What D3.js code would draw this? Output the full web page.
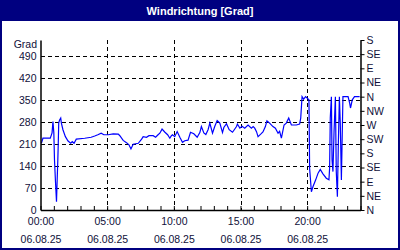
<!DOCTYPE html>
<html>
<head>
<meta charset="utf-8">
<script src="https://cdn.jsdelivr.net/npm/d3@7"></script>
<style>
  body { margin: 0; background: #fff; }
  svg { display: block; font-family: "Liberation Sans", Arial, sans-serif; }
</style>
</head>
<body>
<svg id="chart" width="400" height="250"></svg>
<script>
// Messzeitpunkte (06.08.25) und Windrichtung in Grad
const times = [
  "00:04","00:11","00:44","00:52","00:56","01:00","01:03","01:07","01:12","01:15",
  "01:18","01:20","01:22","01:26","01:31","01:34","01:41","01:52","02:04","02:16",
  "02:23","02:31","02:41","03:19","03:48","04:04","04:18","04:33","04:45","05:05",
  "05:27","05:50","05:57","06:12","06:27","06:38","06:47","06:57","07:20","07:35",
  "07:42","07:57","08:08","08:27","08:38","08:49","08:57","09:07","09:20","09:32",
  "09:42","09:49","09:54","10:04","10:15","10:27","10:39","10:49","11:04","11:15",
  "11:30","11:45","11:57","12:04","12:15","12:24","12:34","12:42","12:54","13:04",
  "13:15","13:27","13:39","13:45","13:57","14:09","14:24","14:32","14:42","14:46",
  "14:57","15:07","15:19","15:34","15:49","15:57","16:04","16:12","16:19","16:31",
  "16:41","16:52","16:59","17:11","17:26","17:37","17:49","17:56","18:04","18:16",
  "18:26","18:37","18:49","19:11","19:26","19:31","19:37","19:44","19:53","20:08",
  "20:11","20:19","20:26","20:38","20:49","20:59","21:11","21:26","21:38","21:41",
  "21:44","21:49","21:52","21:56","22:01","22:07","22:11","22:16","22:20","22:25",
  "22:29","22:34","22:41","23:04","23:11","23:15","23:23","23:33","23:56"
];
const values = [
  212,228,228,245,281,245,159,95,26,95,
  160,213,277,286,292,276,255,233,219,212,
  217,212,225,228,231,235,239,244,239,239,
  242,241,236,221,214,207,194,209,212,225,
  233,231,236,236,231,239,244,257,247,239,
  228,236,239,233,249,231,215,220,222,247,
  242,231,246,265,245,240,255,276,244,265,
  284,276,246,262,274,255,247,255,265,273,
  260,266,260,270,260,265,260,249,233,241,
  248,265,283,276,265,260,244,250,228,270,
  276,292,270,270,273,292,360,352,360,350,
  133,58,74,95,117,129,115,101,96,133,
  292,360,159,122,250,360,122,42,200,360,
  276,95,360,360,340,324,350,360,360
];

const leftTicks = [0, 70, 140, 210, 280, 350, 420, 490];
const dirLabels = ["N","NE","E","SE","S","SW","W","NW","N","NE","E","SE","S"];
const dirValues = [0, 45, 90, 135, 180, 225, 270, 315, 360, 405, 450, 495, 540];
const hourLabels = ["00:00", "05:00", "10:00", "15:00", "20:00"];
const hourValues = [0, 5, 10, 15, 20];
const dateLabel = "06.08.25";

const W = 400, H = 250;
const margin = { top: 40, left: 40.5, right: 39.5, bottom: 40 };
const navy = "#000080";
const textCol = "#10103a";
const font = "'Liberation Sans', Arial, sans-serif";

const svg = d3.select("#chart");

// Rahmen und Titelleiste
svg.append("rect").attr("x", 0).attr("y", 0).attr("width", W).attr("height", H)
  .attr("fill", "#fff");
svg.append("rect").attr("x", 0).attr("y", 0).attr("width", W).attr("height", 21)
  .attr("fill", navy);
svg.append("rect").attr("x", 1).attr("y", 1).attr("width", W - 2).attr("height", H - 2)
  .attr("fill", "none").attr("stroke", navy).attr("stroke-width", 2);
svg.append("text").attr("x", W / 2).attr("y", 14.5)
  .attr("text-anchor", "middle").attr("fill", "#fff")
  .attr("font-size", "11px").attr("font-weight", "bold")
  .text("Windrichtung [Grad]");

const toHour = (s) => { const [h, m] = s.split(":").map(Number); return h + m / 60; };
const data = times.map((t, i) => ({ t: toHour(t), v: values[i] }));

const x = d3.scaleLinear().domain([0, 24]).range([margin.left, W - margin.right]);
const y = d3.scaleLinear().domain([0, 540]).range([H - margin.bottom, margin.top]);

// Gitterlinien
const grid = svg.append("g").attr("stroke", "#000").attr("stroke-dasharray", "4,3")
  .attr("shape-rendering", "crispEdges");
grid.selectAll("line.h").data(leftTicks.filter((d) => d > 0)).enter().append("line")
  .attr("x1", x(0)).attr("x2", x(24))
  .attr("y1", (d) => Math.round(y(d)) + 0.5).attr("y2", (d) => Math.round(y(d)) + 0.5);
grid.selectAll("line.v").data(hourValues.filter((d) => d > 0)).enter().append("line")
  .attr("x1", (d) => Math.round(x(d)) + 0.5).attr("x2", (d) => Math.round(x(d)) + 0.5)
  .attr("y1", y(540)).attr("y2", y(0));

// Datenlinie
const line = d3.line().x((d) => x(d.t)).y((d) => y(d.v));
svg.append("path").datum(data)
  .attr("fill", "none").attr("stroke", "#0000ff").attr("stroke-width", 1.2)
  .attr("d", line);

// Achsen
const yLeft = svg.append("g").attr("transform", `translate(${x(0)},0)`)
  .call(d3.axisLeft(y).tickValues(leftTicks).tickSize(0).tickPadding(4));
const yRight = svg.append("g").attr("transform", `translate(${x(24)},0)`)
  .call(d3.axisRight(y).tickValues(dirValues).tickFormat((d, i) => dirLabels[i])
    .tickSize(4).tickSizeOuter(0).tickPadding(2));
const xMinor = svg.append("g").attr("transform", `translate(0,${y(0)})`)
  .call(d3.axisBottom(x).tickValues(d3.range(0, 25)).tickSize(-4).tickSizeOuter(0)
    .tickFormat(""));
const xLab = svg.append("g").attr("transform", `translate(0,${y(0)})`)
  .call(d3.axisBottom(x).tickValues(hourValues).tickSize(0).tickPadding(8)
    .tickFormat((d, i) => hourLabels[i]));
xLab.select(".domain").remove();
xLab.selectAll(".tick text").append("tspan")
  .attr("x", 0).attr("dy", "1.7em").text(dateLabel);

[yLeft, yRight, xMinor, xLab].forEach((g) => {
  g.selectAll(".domain").attr("stroke", "#000").attr("stroke-width", 1.5);
  g.selectAll(".tick line").attr("stroke", "#000");
  g.selectAll(".tick text").attr("fill", textCol).attr("font-size", "10.5px")
    .attr("font-family", font);
});

svg.append("text").attr("x", 37).attr("y", 48).attr("text-anchor", "end")
  .attr("fill", textCol).attr("font-size", "10.5px").attr("font-family", font)
  .text("Grad");
</script>
</body>
</html>
